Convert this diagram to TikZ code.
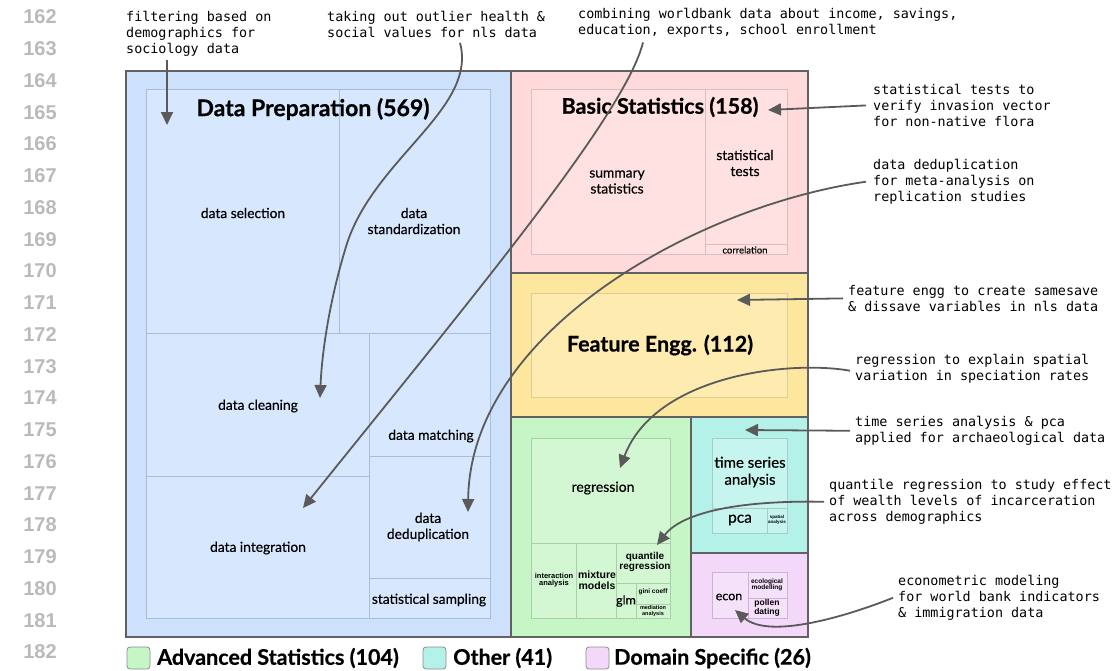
\documentclass[tikz,border=0pt]{standalone}
\usepackage{fontspec}
\setmainfont{Lato}
\newfontfamily\labelfont[FakeBold=0.35]{Lato}
\newfontfamily\headfont[BoldFeatures={FakeBold=0.6}]{Lato}
\newfontfamily\notefont{DejaVu Sans Mono}
\newfontfamily\linefont{Liberation Sans}
\usepackage{tikz}
\usetikzlibrary{arrows.meta}

\definecolor{prepOut}{HTML}{CDE1FD}
\definecolor{prepIn}{HTML}{D7E7FD}
\definecolor{prepLine}{HTML}{AABDD8}
\definecolor{basicOut}{HTML}{FFDADA}
\definecolor{basicIn}{HTML}{FFE1E1}
\definecolor{basicLine}{HTML}{DDBDBD}
\definecolor{featOut}{HTML}{FDE69E}
\definecolor{featIn}{HTML}{FDEBB0}
\definecolor{featLine}{HTML}{E0CC90}
\definecolor{advOut}{HTML}{C6F5C6}
\definecolor{advIn}{HTML}{D2F7D2}
\definecolor{advLine}{HTML}{A9CFA9}
\definecolor{otherOut}{HTML}{B4F1E8}
\definecolor{otherIn}{HTML}{C6F4EE}
\definecolor{otherLine}{HTML}{9ED0C8}
\definecolor{domOut}{HTML}{F3D8FA}
\definecolor{domIn}{HTML}{F6E1FB}
\definecolor{domLine}{HTML}{CDB3D2}
\definecolor{arrowGray}{HTML}{5A5A5A}

\tikzset{
  outerbox/.style={draw=black!62, line width=1.2pt},
  cell/.style={font=\labelfont\fontsize{13.8}{16}\selectfont, align=center, inner sep=0pt},
  tiny/.style={font=\linefont\bfseries\fontsize{#1}{#1}\selectfont, align=center, inner sep=0pt},
  heading/.style={font=\headfont\bfseries\fontsize{21.5}{24}\selectfont, inner sep=0pt},
  note/.style={font=\notefont\fontsize{13.4}{16}\selectfont, align=left, anchor=north west, inner sep=0pt},
  callout/.style={draw=arrowGray, line width=1.8pt, -{Triangle[length=13pt,width=12pt]}},
  lineno/.style={font=\linefont\bfseries\fontsize{20}{20}\selectfont, text=black!27, inner sep=0pt},
  swatch/.style={draw=black!45, line width=0.8pt, rounded corners=3pt},
}

\begin{document}
\begin{tikzpicture}[x=1pt,y=-1pt]
\useasboundingbox (0,0) rectangle (1115,670);

% line numbers
\foreach \n [count=\i from 0] in {162,...,182}
  \node[lineno] (ln\n) at (40,{17+31.75*\i}) {\n};

% outer blocks
\filldraw[fill=prepOut, outerbox] (126,71) rectangle (511,637); %data preparation
\filldraw[fill=basicOut, outerbox] (511,71) rectangle (808,273); %basic statistics
\filldraw[fill=featOut, outerbox] (511,273) rectangle (808,417); %feature engg
\filldraw[fill=advOut, outerbox] (511,417) rectangle (691,637); %advanced statistics
\filldraw[fill=otherOut, outerbox] (691,417) rectangle (808,553); %other
\filldraw[fill=domOut, outerbox] (691,553) rectangle (808,637); %domain specific

% data preparation cells
\filldraw[fill=prepIn, draw=prepLine] (146,89) rectangle (339,333); %data selection
\filldraw[fill=prepIn, draw=prepLine] (339,89) rectangle (490,333); %data standardization
\filldraw[fill=prepIn, draw=prepLine] (146,333) rectangle (369,476); %data cleaning
\filldraw[fill=prepIn, draw=prepLine] (146,476) rectangle (369,618); %data integration
\filldraw[fill=prepIn, draw=prepLine] (369,333) rectangle (490,456); %data matching
\filldraw[fill=prepIn, draw=prepLine] (369,456) rectangle (490,578); %data deduplication
\filldraw[fill=prepIn, draw=prepLine] (369,578) rectangle (490,618); %statistical sampling

% basic statistics cells
\filldraw[fill=basicIn, draw=basicLine] (531,89) rectangle (705,254); %summary statistics
\filldraw[fill=basicIn, draw=basicLine] (705,89) rectangle (787,244); %statistical tests
\filldraw[fill=basicIn, draw=basicLine] (705,244) rectangle (787,254); %correlation

% feature engg cell
\filldraw[fill=featIn, draw=featLine] (531,293) rectangle (787,397);

% advanced statistics cells
\filldraw[fill=advIn, draw=advLine] (531,438) rectangle (670,543); %regression
\filldraw[fill=advIn, draw=advLine] (531,543) rectangle (576,618); %interaction analysis
\filldraw[fill=advIn, draw=advLine] (576,543) rectangle (616,618); %mixture models
\filldraw[fill=advIn, draw=advLine] (616,543) rectangle (670,583); %quantile regression
\filldraw[fill=advIn, draw=advLine] (616,583) rectangle (636,618); %glm
\filldraw[fill=advIn, draw=advLine] (636,583) rectangle (670,604); %gini coeff
\filldraw[fill=advIn, draw=advLine] (636,604) rectangle (670,618); %mediation analysis

% other cells
\filldraw[fill=otherIn, draw=otherLine] (712,438) rectangle (787,508); %time series analysis
\filldraw[fill=otherIn, draw=otherLine] (712,508) rectangle (767,533); %pca
\filldraw[fill=otherIn, draw=otherLine] (767,508) rectangle (787,533); %spatial analysis

% domain specific cells
\filldraw[fill=domIn, draw=domLine] (712,572) rectangle (748,618); %econ
\filldraw[fill=domIn, draw=domLine] (748,572) rectangle (787,598); %ecological modelling
\filldraw[fill=domIn, draw=domLine] (748,598) rectangle (787,618); %pollen dating

% headings
\node[heading, font=\headfont\bfseries\fontsize{23}{26}\selectfont] (prepTitle) at (313,109) {Data Preparation (569)};
\node[heading] (basicTitle) at (660,107) {Basic Statistics (158)};
\node[heading] (featTitle) at (660,345) {Feature Engg. (112)};

% cell labels
\node[cell] (selLbl) at (243,213) {data selection};
\node[cell] (stdLbl) at (414,221) {data\\standardization};
\node[cell] (cleanLbl) at (258,406) {data cleaning};
\node[cell] (integLbl) at (258,548) {data integration};
\node[cell] (matchLbl) at (431,436) {data matching};
\node[cell] (dedupLbl) at (428,527) {data\\deduplication};
\node[cell] (sampLbl) at (429,600) {statistical sampling};
\node[cell] (sumLbl) at (617,182) {summary\\statistics};
\node[cell] (testLbl) at (745,163) {statistical\\tests};
\node[cell, font=\labelfont\fontsize{9.5}{10}\selectfont] (corrLbl) at (745,250) {correlation};
\node[cell, font=\labelfont\fontsize{14}{16}\selectfont] (regLbl) at (603,488) {regression};
\node[tiny=7.5] (interLbl) at (554,580) {interaction\\analysis};
\node[tiny=10.5] (mixLbl) at (597,580) {mixture\\models};
\node[tiny=10] (quantLbl) at (645,562) {quantile\\regression};
\node[cell, font=\labelfont\fontsize{12.5}{13}\selectfont] (glmLbl) at (626,601) {glm};
\node[tiny=6.5] (giniLbl) at (653,592) {gini coeff};
\node[tiny=5.5] (medLbl) at (653,611) {mediation\\analysis};
\node[cell, font=\labelfont\fontsize{15}{17}\selectfont] (timeLbl) at (750,472) {time series\\analysis};
\node[cell, font=\labelfont\fontsize{15.5}{17}\selectfont] (pcaLbl) at (740,520) {pca};
\node[tiny=4.5] (spatLbl) at (777,520) {spatial\\analysis};
\node[cell, font=\labelfont\fontsize{12.5}{13}\selectfont] (econLbl) at (729,597) {econ};
\node[tiny=6.5] (ecoLbl) at (767,585) {ecological\\modelling};
\node[tiny=8.5] (polLbl) at (767,608) {pollen\\dating};

% notes
\node[note] (noteFilter) at (126,11) {filtering based on\\demographics for\\sociology data};
\node[note] (noteOutlier) at (327,11) {taking out outlier health \&\\social values for nls data};
\node[note] (noteWorld) at (578,8) {combining worldbank data about income, savings,\\education, exports, school enrollment};
\node[note] (noteTests) at (873,84) {statistical tests to\\verify invasion vector\\for non-native flora};
\node[note] (noteDedup) at (873,159) {data deduplication\\for meta-analysis on\\replication studies};
\node[note] (noteFeat) at (848,285) {feature engg to create samesave\\\& dissave variables in nls data};
\node[note] (noteRegr) at (855,354) {regression to explain spatial\\variation in speciation rates};
\node[note] (noteTime) at (855,416) {time series analysis \& pca\\applied for archaeological data};
\node[note] (noteQuant) at (829,479) {quantile regression to study effect\\of wealth levels of incarceration\\across demographics};
\node[note] (noteEcon) at (898,575) {econometric modeling\\for world bank indicators\\\& immigration data};

% arrow tips
\coordinate (selTip) at (167,125);
\coordinate (cleanTip) at (320,398);
\coordinate (integTip) at (303,508);
\coordinate (basicTip) at (768,110);
\coordinate (dedupTip) at (468,512);
\coordinate (featTip) at (737,300);
\coordinate (regTip) at (620,468);
\coordinate (timeTip) at (745,430);
\coordinate (quantTip) at (657,545);
\coordinate (econTip) at (735,610);

% arrows
\draw[callout] ([xshift=41pt,yshift=-3pt]noteFilter.south west) -- (selTip);
\draw[callout] ([xshift=133pt,yshift=-5pt]noteOutlier.south west) .. controls (478,110) and (370,160) .. (345,250) .. controls (330,300) and (322,350) .. (cleanTip);
\draw[callout] ([xshift=65pt,yshift=-5pt]noteWorld.south west) .. controls (625,115) and (470,300) .. (integTip);
\draw[callout] ([xshift=-7pt]noteTests.west) -- (basicTip);
\draw[callout] ([xshift=-7pt]noteDedup.west) .. controls (700,205) and (470,330) .. (dedupTip);
\draw[callout] ([xshift=-5pt]noteFeat.west) -- (featTip);
\draw[callout] ([xshift=-5pt,yshift=-2pt]noteRegr.west) .. controls (790,360) and (655,375) .. (regTip);
\draw[callout] ([xshift=-5pt]noteTime.west) -- (timeTip);
\draw[callout] ([xshift=-5pt]noteQuant.west) .. controls (730,500) and (680,515) .. (quantTip);
\draw[callout] ([xshift=-5pt]noteEcon.west) .. controls (850,615) and (770,640) .. (econTip);

% legend
\filldraw[fill=advOut, swatch] (127,647) rectangle (150,669);
\node[heading, anchor=west] (advLeg) at (157,658) {Advanced Statistics (104)};
\filldraw[fill=otherOut, swatch] (423,647) rectangle (446,669);
\node[heading, anchor=west] (otherLeg) at (453,658) {Other (41)};
\filldraw[fill=domOut, swatch] (586,647) rectangle (609,669);
\node[heading, anchor=west] (domLeg) at (614,658) {Domain Specific (26)};

\end{tikzpicture}
\end{document}
